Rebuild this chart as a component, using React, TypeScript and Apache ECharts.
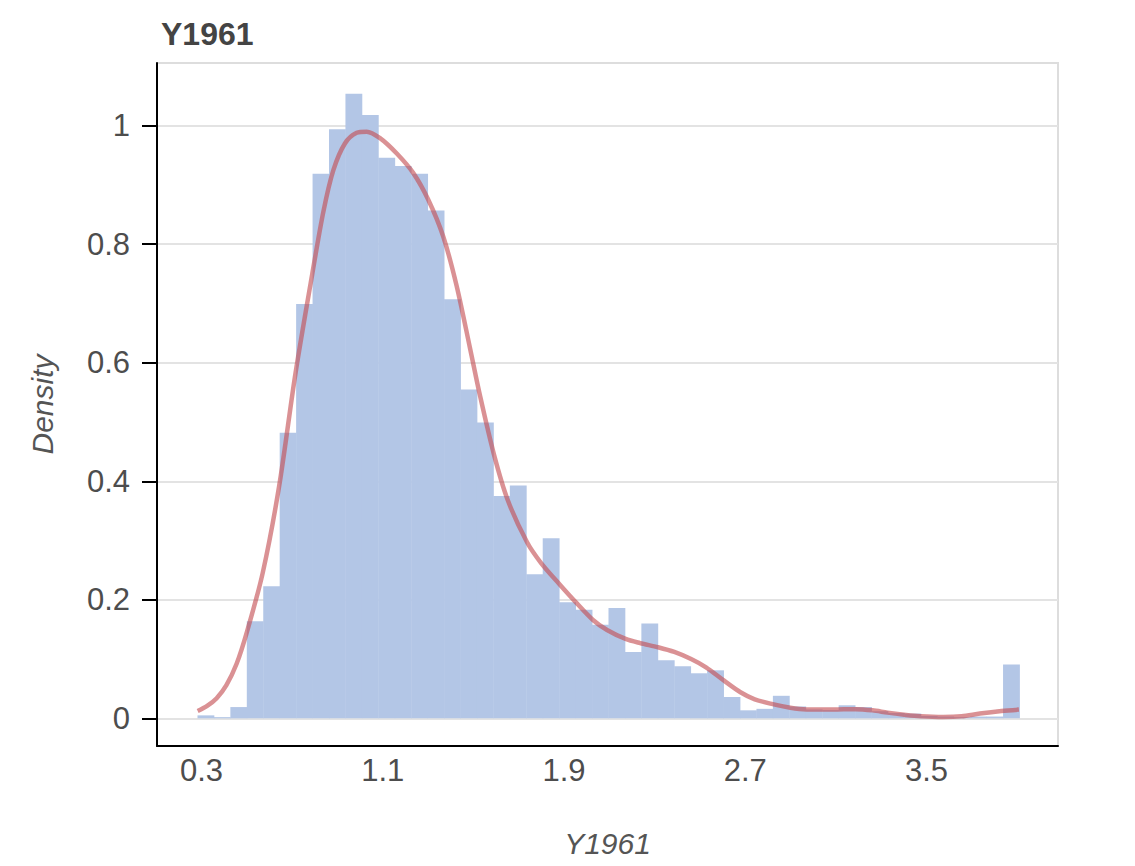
import React, { useEffect, useRef } from "react";
import * as echarts from "echarts";

const TITLE = "Y1961";
const X_NAME = "Y1961";
const Y_NAME = "Density";

const X_TICKS = [0.3, 1.1, 1.9, 2.7, 3.5];
const Y_TICKS = [0, 0.2, 0.4, 0.6, 0.8, 1];

const BIN_MIN = 0.2823;
const BIN_MAX = 3.9105;
const DENSITY = [
  0.005, 0.002, 0.019, 0.164, 0.223, 0.482, 0.699, 0.919, 0.994, 1.054,
  1.018, 0.946, 0.932, 0.919, 0.857, 0.707, 0.555, 0.499, 0.375, 0.393,
  0.243, 0.304, 0.196, 0.183, 0.158, 0.186, 0.112, 0.16, 0.098, 0.088,
  0.076, 0.081, 0.036, 0.0135, 0.016, 0.038, 0.02, 0.015, 0.014, 0.022,
  0.019, 0.012, 0.009, 0.008, 0.004, 0.003, 0.002, 0.003, 0.003, 0.091,
];

const KDE_X = [
  0.283, 0.325, 0.367, 0.41, 0.455, 0.5, 0.57, 0.642, 0.714, 0.789,
  0.838, 0.882, 0.933, 0.985, 1.029, 1.088, 1.162, 1.235, 1.301, 1.367,
  1.426, 1.485, 1.529, 1.591, 1.652, 1.737, 1.799, 1.881, 1.957, 2.028,
  2.09, 2.172, 2.236, 2.315, 2.387, 2.461, 2.527, 2.605, 2.679, 2.742,
  2.821, 2.899, 2.971, 3.049, 3.107, 3.187, 3.262, 3.328, 3.41, 3.474,
  3.573, 3.655, 3.736, 3.831, 3.908,
];
const KDE_Y = [
  0.0125, 0.021, 0.034, 0.056, 0.092, 0.145, 0.245, 0.39, 0.58, 0.75,
  0.855, 0.925, 0.97, 0.988, 0.99, 0.979, 0.953, 0.92, 0.875, 0.813,
  0.73, 0.625, 0.545, 0.445, 0.368, 0.297, 0.262, 0.226, 0.194, 0.166,
  0.149, 0.134, 0.127, 0.12, 0.112, 0.1, 0.086, 0.064, 0.044, 0.032,
  0.024, 0.018, 0.015, 0.0147, 0.015, 0.0155, 0.0135, 0.0096, 0.0056, 0.0034,
  0.0022, 0.0034, 0.008, 0.0123, 0.0147,
];

const FONT = "'Liberation Sans', Arial, Helvetica, sans-serif";

export default function App() {
  const ref = useRef<HTMLDivElement>(null);

  useEffect(() => {
    if (!ref.current) return;
    const chart = echarts.init(ref.current, null, { renderer: "svg" });
    const n = DENSITY.length;
    const w = (BIN_MAX - BIN_MIN) / n;
    const bins = DENSITY.map((d, i) => [BIN_MIN + i * w, BIN_MIN + (i + 1) * w, d]);
    const kde = KDE_X.map((x, i) => [x, KDE_Y[i]]);

    chart.setOption({
      animation: false,
      title: {
        text: TITLE,
        left: 156,
        top: 13,
        textStyle: { fontFamily: FONT, fontSize: 32, fontWeight: "bold", color: "#444" },
      },
      grid: {
        left: 157,
        top: 63,
        right: 77,
        bottom: 120,
        show: true,
        borderColor: "#dddddd",
        borderWidth: 2,
        backgroundColor: "transparent",
      },
      xAxis: {
        type: "value",
        min: 0.1036,
        max: 4.0805,
        name: X_NAME,
        nameLocation: "middle",
        nameGap: 82,
        nameTextStyle: { fontFamily: FONT, fontSize: 30, fontStyle: "italic", color: "#555" },
        axisLine: { show: true, onZero: false, lineStyle: { color: "#000", width: 2 } },
        axisTick: { show: false },
        splitLine: { show: false },
        axisLabel: {
          customValues: X_TICKS,
          formatter: (v: number) => v.toFixed(1),
          fontFamily: FONT,
          fontSize: 31,
          color: "#4d4d4d",
          margin: 9,
        },
      },
      yAxis: {
        type: "value",
        min: -0.0467,
        max: 1.1058,
        interval: 0.2,
        name: Y_NAME,
        nameLocation: "middle",
        nameGap: 100,
        nameTextStyle: { fontFamily: FONT, fontSize: 30, fontStyle: "italic", color: "#555" },
        axisLine: { show: true, onZero: false, lineStyle: { color: "#000", width: 2 } },
        axisTick: {
          show: true,
          customValues: Y_TICKS,
          length: 15,
          lineStyle: { color: "#000", width: 2 },
        },
        splitLine: { show: true, lineStyle: { color: "#e3e3e3", width: 2 } },
        axisLabel: {
          customValues: Y_TICKS,
          formatter: (v: number) => String(Math.round(v * 10) / 10),
          fontFamily: FONT,
          fontSize: 31,
          color: "#4d4d4d",
          margin: 27,
        },
      },
      series: [
        {
          type: "custom",
          data: bins,
          encode: { x: [0, 1], y: 2 },
          z: 2,
          renderItem: (params: any, api: any) => {
            const p0 = api.coord([api.value(0), 0]);
            const p1 = api.coord([api.value(1), api.value(2)]);
            return {
              type: "rect",
              shape: { x: p0[0], y: p1[1], width: p1[0] - p0[0] + 0.4, height: p0[1] - p1[1] },
              style: { fill: "#b3c6e6" },
            };
          },
        },
        {
          type: "line",
          data: kde,
          smooth: 0.3,
          showSymbol: false,
          z: 3,
          lineStyle: { color: "#c44e52", opacity: 0.62, width: 4.5 },
        },
      ],
    });
    return () => chart.dispose();
  }, []);

  return (
    <div
      ref={ref}
      style={{ position: "fixed", left: 0, top: 0, width: 1135, height: 866, background: "#fff" }}
    />
  );
}
